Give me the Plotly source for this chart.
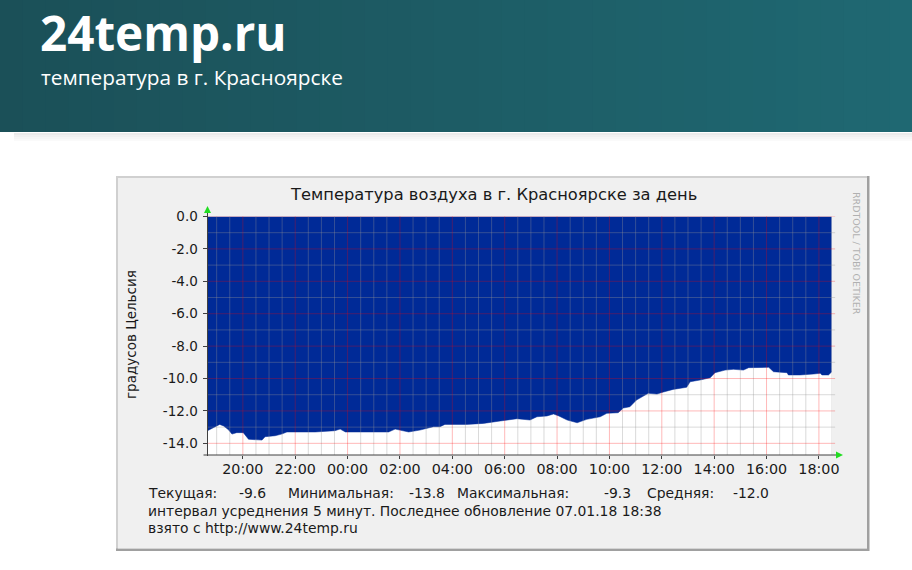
import plotly.graph_objects as go

# ---------------- data ----------------
times = [
    "2018-01-06 18:39", "2018-01-06 18:56", "2018-01-06 19:07", "2018-01-06 19:16",
    "2018-01-06 19:27", "2018-01-06 19:35", "2018-01-06 19:46", "2018-01-06 20:01",
    "2018-01-06 20:13", "2018-01-06 20:44", "2018-01-06 20:51", "2018-01-06 21:14",
    "2018-01-06 21:29", "2018-01-06 21:41", "2018-01-06 22:46", "2018-01-06 23:31",
    "2018-01-06 23:43", "2018-01-06 23:55", "2018-01-07 01:34", "2018-01-07 01:49",
    "2018-01-07 02:04", "2018-01-07 02:20", "2018-01-07 02:46", "2018-01-07 03:17",
    "2018-01-07 03:32", "2018-01-07 03:43", "2018-01-07 04:33", "2018-01-07 05:11",
    "2018-01-07 05:50", "2018-01-07 06:28", "2018-01-07 06:58", "2018-01-07 07:14",
    "2018-01-07 07:37", "2018-01-07 07:52", "2018-01-07 08:04", "2018-01-07 08:23",
    "2018-01-07 08:46", "2018-01-07 09:08", "2018-01-07 09:39", "2018-01-07 09:54",
    "2018-01-07 10:20", "2018-01-07 10:32", "2018-01-07 10:47", "2018-01-07 11:02",
    "2018-01-07 11:29", "2018-01-07 11:49", "2018-01-07 12:04", "2018-01-07 12:26",
    "2018-01-07 12:57", "2018-01-07 13:05", "2018-01-07 13:28", "2018-01-07 13:51",
    "2018-01-07 14:02", "2018-01-07 14:25", "2018-01-07 14:44", "2018-01-07 15:07",
    "2018-01-07 15:19", "2018-01-07 15:46", "2018-01-07 16:05", "2018-01-07 16:16",
    "2018-01-07 16:47", "2018-01-07 16:50", "2018-01-07 17:17", "2018-01-07 17:48",
    "2018-01-07 18:03", "2018-01-07 18:07", "2018-01-07 18:22", "2018-01-07 18:29",
]
temps = [
    -13.22, -12.97, -12.83, -12.93, -13.16, -13.43, -13.34, -13.34,
    -13.75, -13.80, -13.59, -13.53, -13.43, -13.30, -13.30, -13.22,
    -13.12, -13.30, -13.30, -13.12, -13.22, -13.30, -13.18, -12.97,
    -12.97, -12.83, -12.83, -12.77, -12.62, -12.48, -12.56, -12.36,
    -12.31, -12.19, -12.31, -12.56, -12.73, -12.52, -12.36, -12.15,
    -12.11, -11.82, -11.74, -11.33, -10.91, -10.96, -10.83, -10.67,
    -10.54, -10.20, -10.09, -9.95, -9.64, -9.48, -9.43, -9.48,
    -9.33, -9.33, -9.31, -9.58, -9.64, -9.78, -9.78, -9.72,
    -9.68, -9.78, -9.78, -9.60,
]

x_range = ["2018-01-06 18:39", "2018-01-07 18:30"]
y_range = [-14.72, 0.0]

x_major_ticks = ["2018-01-06 20:00", "2018-01-06 22:00", "2018-01-07 00:00", "2018-01-07 02:00",
                 "2018-01-07 04:00", "2018-01-07 06:00", "2018-01-07 08:00", "2018-01-07 10:00",
                 "2018-01-07 12:00", "2018-01-07 14:00", "2018-01-07 16:00", "2018-01-07 18:00"]
x_tick_labels = ["20:00", "22:00", "00:00", "02:00", "04:00", "06:00",
                 "08:00", "10:00", "12:00", "14:00", "16:00", "18:00"]
x_minor_ticks = ["2018-01-06 19:00", "2018-01-06 19:30", "2018-01-06 20:30", "2018-01-06 21:00",
                 "2018-01-06 21:30", "2018-01-06 22:30", "2018-01-06 23:00", "2018-01-06 23:30",
                 "2018-01-07 00:30", "2018-01-07 01:00", "2018-01-07 01:30", "2018-01-07 02:30",
                 "2018-01-07 03:00", "2018-01-07 03:30", "2018-01-07 04:30", "2018-01-07 05:00",
                 "2018-01-07 05:30", "2018-01-07 06:30", "2018-01-07 07:00", "2018-01-07 07:30",
                 "2018-01-07 08:30", "2018-01-07 09:00", "2018-01-07 09:30", "2018-01-07 10:30",
                 "2018-01-07 11:00", "2018-01-07 11:30", "2018-01-07 12:30", "2018-01-07 13:00",
                 "2018-01-07 13:30", "2018-01-07 14:30", "2018-01-07 15:00", "2018-01-07 15:30",
                 "2018-01-07 16:30", "2018-01-07 17:00", "2018-01-07 17:30", "2018-01-07 18:30"]
y_major_ticks = [0, -2, -4, -6, -8, -10, -12, -14]
y_tick_labels = ["0.0", "-2.0", "-4.0", "-6.0", "-8.0", "-10.0", "-12.0", "-14.0"]
y_minor_ticks = [-1, -3, -5, -7, -9, -11, -13]

title_text = "Температура воздуха в г. Красноярске за день"
y_title = "градусов Цельсия"
legend_items = [("Текущая:", 146), ("-9.6", 237), ("Минимальная:", 286), ("-13.8", 407),
                ("Максимальная:", 455), ("-9.3", 602), ("Средняя:", 645), ("-12.0", 731)]
legend_line2 = "интервал усреднения 5 минут. Последнее обновление 07.01.18 18:38"
legend_line3 = "взято с http://www.24temp.ru"
site_title = "24temp.ru"
site_subtitle = "температура в г. Красноярске"
watermark = "RRDTOOL / TOBI OETIKER"

# ---------------- layout helpers (pixel -> paper) ----------------
W, H = 912, 570
def px(x):
    return x / W
def py(y):
    return 1 - y / H

PL, PR, PT, PB = 207.5, 832.0, 216.5, 455.0
AREA = "#002A97"
FONT = "DejaVu Sans"

fig = go.Figure()
fig.add_trace(go.Scatter(
    x=times, y=temps, mode="lines",
    line=dict(width=0.5, color=AREA),
    fill="tozeroy", fillcolor=AREA,
    hoverinfo="skip", showlegend=False,
))

shapes = []
# header band with horizontal gradient
c0, c1 = (27, 80, 88), (31, 104, 114)
n = 40
for i in range(n):
    t = i / (n - 1)
    col = "rgb(%d,%d,%d)" % tuple(round(a + (b - a) * t) for a, b in zip(c0, c1))
    shapes.append(dict(type="rect", xref="paper", yref="paper", layer="below",
                       x0=px(W * i / n), x1=px(W * (i + 1) / n + 1), y0=py(132), y1=py(0),
                       line=dict(width=0), fillcolor=col))
for k, col in enumerate(["#ebebeb", "#f1f1f1", "#f6f6f6", "#fafafa"]):
    shapes.append(dict(type="rect", xref="paper", yref="paper", layer="below",
                       x0=px(14), x1=px(W), y0=py(133 + 2 * (k + 1)), y1=py(133 + 2 * k),
                       line=dict(width=0), fillcolor=col))
# chart frame
shapes.append(dict(type="rect", xref="paper", yref="paper", layer="below",
                   x0=px(116), x1=px(869.5), y0=py(551), y1=py(176),
                   line=dict(width=0), fillcolor="#a0a0a0"))
shapes.append(dict(type="rect", xref="paper", yref="paper", layer="below",
                   x0=px(116), x1=px(867), y0=py(548.5), y1=py(176),
                   line=dict(width=0), fillcolor="#d0d0d0"))
shapes.append(dict(type="rect", xref="paper", yref="paper", layer="below",
                   x0=px(118), x1=px(867), y0=py(548.5), y1=py(178),
                   line=dict(width=0), fillcolor="#f0f0f0"))
shapes.append(dict(type="rect", xref="paper", yref="paper", layer="below",
                   x0=px(PL), x1=px(PR), y0=py(PB), y1=py(PT),
                   line=dict(width=0), fillcolor="#ffffff"))

# grid drawn on top of the area (as rrdtool does)
MINOR = "rgba(150,150,150,0.35)"
MAJOR = "rgba(255,0,0,0.28)"
for xv in x_minor_ticks:
    shapes.append(dict(type="line", xref="x", yref="y domain", layer="above",
                       x0=xv, x1=xv, y0=0, y1=1, line=dict(color=MINOR, width=1)))
for yv in y_minor_ticks:
    shapes.append(dict(type="line", xref="x domain", yref="y", layer="above",
                       x0=0, x1=1.005, y0=yv, y1=yv, line=dict(color=MINOR, width=1)))
for xv in x_major_ticks:
    shapes.append(dict(type="line", xref="x", yref="y domain", layer="above",
                       x0=xv, x1=xv, y0=0, y1=1, line=dict(color=MAJOR, width=1)))
for yv in y_major_ticks:
    shapes.append(dict(type="line", xref="x domain", yref="y", layer="above",
                       x0=0, x1=1.005, y0=yv, y1=yv, line=dict(color=MAJOR, width=1)))

# axis lines + green arrows
AX = "#404040"
shapes.append(dict(type="line", xref="paper", yref="paper", layer="above",
                   x0=px(PL), x1=px(PL), y0=py(PB + 1), y1=py(210), line=dict(color=AX, width=1)))
shapes.append(dict(type="line", xref="paper", yref="paper", layer="above",
                   x0=px(PL - 4), x1=px(838), y0=py(PB), y1=py(PB), line=dict(color=AX, width=1)))
shapes.append(dict(type="path", xref="paper", yref="paper", layer="above",
                   path="M %f,%f L %f,%f L %f,%f Z" % (px(PL - 3.5), py(213), px(PL + 3.5), py(213), px(PL), py(206)),
                   line=dict(width=0), fillcolor="#22dd22"))
shapes.append(dict(type="path", xref="paper", yref="paper", layer="above",
                   path="M %f,%f L %f,%f L %f,%f Z" % (px(836), py(PB - 3.5), px(836), py(PB + 3.5), px(843), py(PB)),
                   line=dict(width=0), fillcolor="#22dd22"))

annotations = []
def txt(text, x, y, size, color="#1a1a1a", family=FONT, xanchor="left", yanchor="middle", angle=0, bold=False):
    annotations.append(dict(text=("<b>%s</b>" % text) if bold else text, x=px(x), y=py(y),
                            xref="paper", yref="paper", showarrow=False,
                            xanchor=xanchor, yanchor=yanchor, textangle=angle,
                            font=dict(family=family, size=size, color=color)))

txt(site_title, 38, 32.2, 47.6, color="#ffffff", family="Open Sans", bold=True)
txt(site_subtitle, 39, 77.0, 20.8, color="#ffffff", family="Open Sans")
txt(title_text, 493, 195, 16.3, xanchor="center")
txt(y_title, 131, 335, 13.5, xanchor="center", angle=-90)
txt(watermark, 857, 253, 9.5, color="#b0b0b0", xanchor="center", angle=90)
for label, xpos in legend_items:
    txt(label, xpos, 493, 13.9)
txt(legend_line2, 146, 511, 13.9)
txt(legend_line3, 146, 528, 13.9)

fig.update_layout(
    template="none",
    width=W, height=H,
    margin=dict(l=0, r=0, t=0, b=0),
    paper_bgcolor="#ffffff",
    plot_bgcolor="rgba(0,0,0,0)",
    showlegend=False,
    shapes=shapes,
    annotations=annotations,
    xaxis=dict(
        domain=[px(PL), px(PR)], range=x_range, type="date",
        tickvals=x_major_ticks, ticktext=x_tick_labels,
        ticks="outside", ticklen=3, tickcolor=AX, tickwidth=1,
        showgrid=False, zeroline=False, showline=False, automargin=False,
        tickfont=dict(family=FONT, size=14.3, color="#1a1a1a"),
        ticklabelstandoff=-2,
        fixedrange=True,
    ),
    yaxis=dict(
        domain=[py(PB), py(PT)], range=y_range,
        tickvals=y_major_ticks, ticktext=y_tick_labels,
        ticks="outside", ticklen=4, tickcolor=AX, tickwidth=1,
        showgrid=False, zeroline=False, showline=False, automargin=False,
        tickfont=dict(family=FONT, size=13.5, color="#1a1a1a"),
        ticklabelstandoff=2,
        fixedrange=True,
    ),
)

fig.write_html("out.html", config={"displayModeBar": False},
               post_script="document.body.style.margin='0';document.body.style.overflow='hidden';")
